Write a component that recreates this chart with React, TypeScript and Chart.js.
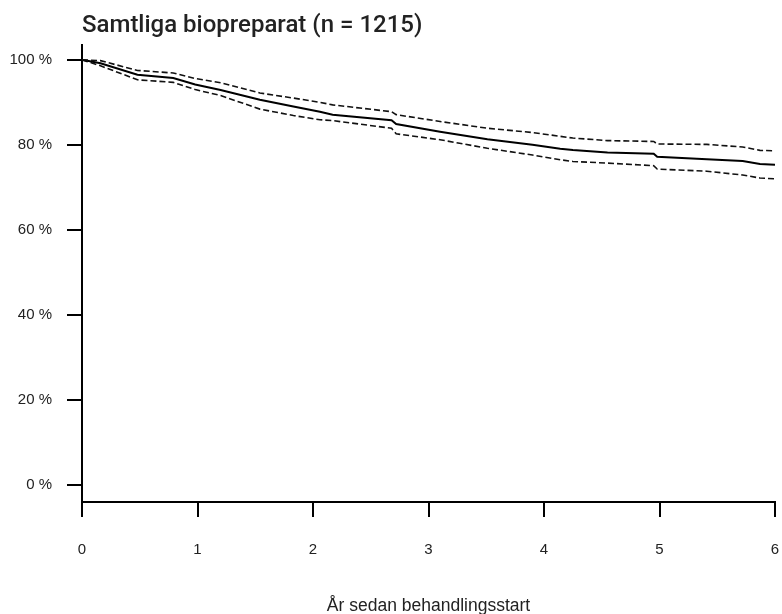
import React, { useEffect, useRef } from "react";
import { Chart, registerables } from "chart.js";

Chart.register(...registerables);

const chartTitle = "Samtliga biopreparat (n = 1215)";
const xAxisTitle = "År sedan behandlingsstart";

const yearsSinceStart = [0, 0.16, 0.48, 0.79, 0.98, 1.2, 1.54, 1.83, 2.06, 2.17, 2.68, 2.72, 3.1, 3.51, 3.9, 4.14, 4.25, 4.55, 4.95, 4.98, 5.41, 5.72, 5.87, 6.0];
const survival = [100, 99.2, 96.5, 95.7, 94.2, 92.9, 90.6, 89.0, 87.8, 87.1, 85.8, 84.9, 83.1, 81.3, 80.0, 79.1, 78.8, 78.2, 77.9, 77.2, 76.6, 76.2, 75.5, 75.3];
const ciUpper = [100, 99.8, 97.5, 96.9, 95.6, 94.6, 92.2, 91.0, 90.0, 89.4, 87.8, 87.1, 85.5, 83.9, 82.9, 82.0, 81.6, 81.0, 80.8, 80.2, 80.1, 79.5, 78.7, 78.6];
const ciLower = [100, 98.6, 95.3, 94.7, 93.0, 91.6, 88.4, 86.9, 85.9, 85.7, 83.9, 82.6, 81.2, 79.2, 77.6, 76.5, 76.1, 75.7, 75.1, 74.3, 73.8, 72.9, 72.2, 72.0];

const yTickValues = [0, 20, 40, 60, 80, 100];
const xTickValues = [0, 1, 2, 3, 4, 5, 6];

const toPoints = (ys: number[]) => yearsSinceStart.map((x, i) => ({ x, y: ys[i] }));

export default function App() {
  const canvasRef = useRef<HTMLCanvasElement | null>(null);

  useEffect(() => {
    document.body.style.margin = "0";
    const canvas = canvasRef.current;
    if (!canvas) return;
    const tickFont = { family: "'Liberation Sans', Arial, sans-serif", size: 15 };
    const chart = new Chart(canvas, {
      type: "line",
      data: {
        datasets: [
          {
            label: "Övre KI",
            data: toPoints(ciUpper),
            borderColor: "#111",
            borderWidth: 1.6,
            borderDash: [6, 3],
            pointRadius: 0,
            tension: 0,
          },
          {
            label: "Kvar på behandling",
            data: toPoints(survival),
            borderColor: "#000",
            borderWidth: 2,
            pointRadius: 0,
            tension: 0,
          },
          {
            label: "Nedre KI",
            data: toPoints(ciLower),
            borderColor: "#111",
            borderWidth: 1.6,
            borderDash: [6, 3],
            pointRadius: 0,
            tension: 0,
          },
        ],
      },
      options: {
        responsive: false,
        animation: false,
        layout: { padding: { left: 9, right: 7, top: 0, bottom: 0 } },
        plugins: {
          legend: { display: false },
          tooltip: { enabled: false },
          title: {
            display: true,
            text: chartTitle,
            align: "start",
            fullSize: false,
            color: "#222",
            font: { family: "Roboto, 'Liberation Sans', sans-serif", size: 24, weight: "500" },
            padding: { top: 12, bottom: 4 },
          },
        },
        scales: {
          x: {
            type: "linear",
            min: 0,
            max: 6,
            afterBuildTicks: (axis: any) => {
              axis.ticks = xTickValues.map((v) => ({ value: v }));
            },
            afterFit: (axis: any) => {
              axis.height = 112;
              axis.paddingLeft = 0;
              axis.paddingRight = 0;
            },
            ticks: { color: "#222", font: tickFont, padding: 24, maxRotation: 0 },
            grid: { drawOnChartArea: false, drawTicks: true, tickLength: 15, color: "#000", lineWidth: 2 },
            border: { display: true, color: "#000", width: 2 },
            title: {
              display: true,
              text: xAxisTitle,
              color: "#222",
              font: { family: "'Liberation Sans', Arial, sans-serif", size: 17.5 },
              padding: { top: 10, bottom: -3 },
            },
          },
          y: {
            type: "linear",
            min: -4,
            max: 103.53,
            afterBuildTicks: (axis: any) => {
              axis.ticks = yTickValues.map((v) => ({ value: v }));
            },
            afterFit: (axis: any) => {
              axis.width = 73;
              axis.paddingTop = 0;
              axis.paddingBottom = 0;
            },
            ticks: {
              color: "#222",
              font: tickFont,
              padding: 15,
              callback: (v: any) => `${v} %`,
            },
            grid: { drawOnChartArea: false, drawTicks: true, tickLength: 15, color: "#000", lineWidth: 2 },
            border: { display: true, color: "#000", width: 2 },
          },
        },
      },
    } as any);
    return () => chart.destroy();
  }, []);

  return <canvas ref={canvasRef} width={782} height={614} style={{ display: "block" }} />;
}
